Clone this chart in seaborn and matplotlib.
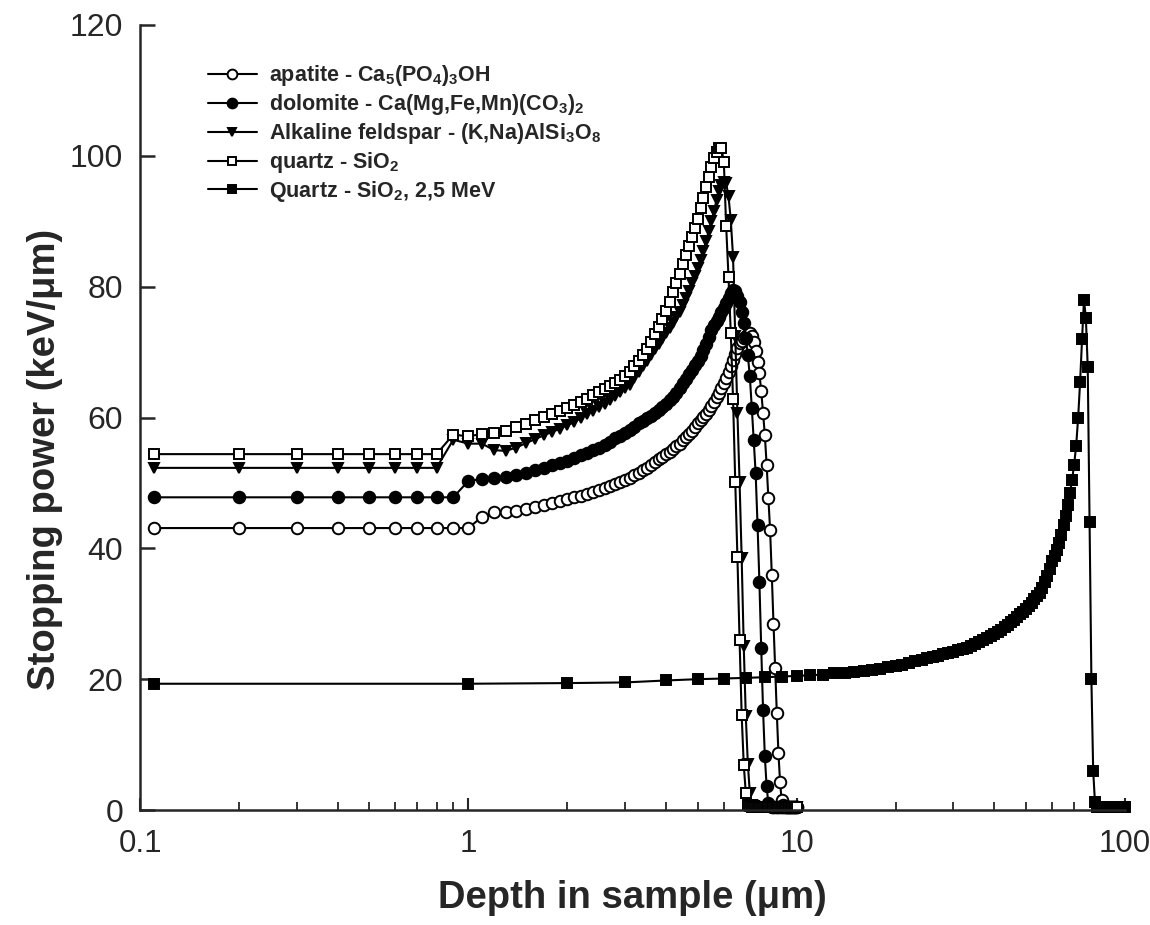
import numpy as np
import pandas as pd
import matplotlib
matplotlib.use("Agg")
import matplotlib.pyplot as plt
import seaborn as sns
from matplotlib.ticker import LogLocator, NullFormatter, FixedLocator

sns.set_style("ticks")
plt.rcParams['font.family'] = ['Liberation Sans', 'DejaVu Sans']
plt.rcParams['mathtext.fontset'] = 'custom'
plt.rcParams['mathtext.rm'] = 'Liberation Sans:bold'
plt.rcParams['mathtext.it'] = 'Liberation Sans:bold'
plt.rcParams['mathtext.bf'] = 'Liberation Sans:bold'
plt.rcParams['mathtext.default'] = 'rm'

# ---------------- data ----------------
# depth grid of the 1 MeV mineral curves (µm)
depth_min = [0.11, 0.2, 0.3, 0.4, 0.5, 0.6, 0.7, 0.8, 0.9] + [round(0.1 * k, 1) for k in range(10, 101)]

apatite = [43.1, 43.1, 43.1, 43.1, 43.1, 43.1, 43.1, 43.1, 43.1,            # 0.11-0.9
           43.1, 44.8, 45.5, 45.6, 45.7, 46.0, 46.3, 46.6, 46.9, 47.2,      # 1.0-1.9
           47.5, 47.8, 48.0, 48.3, 48.6, 48.9, 49.2, 49.5, 49.8, 50.1,      # 2.0-2.9
           50.4, 50.8, 51.2, 51.5, 51.9, 52.3, 52.8, 53.2, 53.6, 54.0,      # 3.0-3.9
           54.4, 54.8, 55.2, 55.6, 56.0, 56.5, 57.0, 57.5, 58.0, 58.6,      # 4.0-4.9
           59.1, 59.6, 60.1, 60.6, 61.1, 61.7, 62.4, 63.1, 63.8, 64.5,      # 5.0-5.9
           65.2, 66.1, 67.0, 67.9, 68.8, 69.7, 70.6, 71.4, 71.7, 72.1,      # 6.0-6.9
           72.4, 72.8, 72.9, 72.5, 71.5, 70.1, 68.5, 66.8, 64.0, 60.7,      # 7.0-7.9
           57.3, 52.8, 47.7, 42.8, 35.9, 28.5, 21.7, 14.8, 8.7, 4.3,        # 8.0-8.9
           1.5, 0.8, 0.6, 0.5, 0.5, 0.4, 0.4, 0.4, 0.4, 0.4,                # 9.0-9.9
           0.4]                                                             # 10.0

dolomite = [47.8, 47.8, 47.8, 47.8, 47.8, 47.8, 47.8, 47.8, 47.8,
            50.3, 50.6, 50.8, 50.9, 51.2, 51.5, 51.9, 52.3, 52.7, 53.1,
            53.4, 53.8, 54.2, 54.6, 55.0, 55.4, 55.8, 56.3, 56.8, 57.2,
            57.6, 58.1, 58.6, 59.1, 59.5, 59.9, 60.3, 60.7, 61.2, 61.6,
            62.0, 62.6, 63.2, 63.8, 64.5, 65.2, 65.9, 66.6, 67.3, 68.0,
            68.7, 69.4, 70.3, 71.3, 72.3, 73.3, 74.1, 74.8, 75.4, 76.1,
            76.8, 77.5, 78.2, 79.0, 79.5, 79.3, 78.6, 77.6, 76.2, 74.4,
            72.2, 69.5, 66.3, 61.5, 56.5, 51.5, 43.6, 34.9, 24.7, 15.3,
            8.2, 3.6, 1.0, 0.6, 0.5, 0.5, 0.4, 0.4, 0.4, 0.4,
            0.4, 0.4, 0.4, 0.4, 0.4, 0.4, 0.4, 0.4, 0.4, 0.4,
            0.4]

feldspar = [52.3, 52.3, 52.3, 52.3, 52.3, 52.3, 52.3, 52.3, 56.6,
            56.0, 56.0, 55.0, 54.9, 55.4, 56.1, 56.7, 57.3, 57.8, 58.3,
            58.8, 59.3, 59.9, 60.5, 61.0, 61.6, 62.1, 62.7, 63.3, 63.9,
            64.5, 65.0, 66.0, 66.9, 67.8, 68.7, 69.6, 70.4, 71.2, 72.0,
            72.9, 73.7, 74.5, 75.4, 76.2, 77.2, 78.3, 79.4, 80.5, 81.6,
            82.8, 84.1, 85.5, 87.0, 88.5, 90.0, 91.6, 93.2, 94.6, 95.6,
            96.0, 95.8, 93.8, 90.2, 84.6, 72.5, 60.7, 50.2, 38.5, 25.0,
            14.3, 7.1, 2.6, 0.8, 0.6, 0.5, 0.5, 0.4, 0.4, 0.4,
            0.4, 0.4, 0.4, 0.4, 0.4, 0.4, 0.4, 0.4, 0.4, 0.4,
            0.4, 0.4, 0.4, 0.4, 0.4, 0.4, 0.4, 0.4, 0.4, 0.4,
            0.4]

quartz = [54.4, 54.4, 54.4, 54.4, 54.4, 54.4, 54.4, 54.4, 57.4,
          57.1, 57.5, 57.7, 58.0, 58.5, 59.0, 59.6, 60.1, 60.5, 61.0,
          61.5, 61.9, 62.4, 62.9, 63.4, 63.9, 64.3, 64.8, 65.3, 65.8,
          66.4, 67.0, 67.8, 68.6, 69.5, 70.5, 71.6, 72.7, 73.8, 75.0,
          76.3, 77.7, 79.2, 80.6, 82.0, 83.4, 84.8, 86.2, 87.6, 89.0,
          90.4, 92.0, 93.6, 95.2, 96.8, 98.3, 99.6, 100.6, 101.2, 101.2,
          99.1, 89.2, 81.5, 72.9, 62.9, 50.2, 38.7, 26.0, 14.5, 6.9,
          2.6, 0.8, 0.6, 0.5, 0.5, 0.4, 0.4, 0.4, 0.4, 0.4,
          0.4, 0.4, 0.4, 0.4, 0.4, 0.4, 0.4, 0.4, 0.4, 0.4,
          0.4, 0.4, 0.4, 0.4, 0.4, 0.4, 0.4, 0.4, 0.4, 0.4,
          0.4]

# 2.5 MeV quartz curve, depth grid 0.11 then every 1 µm
depth_mev = [0.11] + list(range(1, 101))
quartz_25 = [19.3,
             19.3, 19.4, 19.5, 19.8, 20.0, 20.1, 20.2, 20.3, 20.4, 20.5,   # 1-10
             20.6, 20.7, 20.9, 21.0, 21.1, 21.3, 21.4, 21.6, 21.8, 22.0,   # 11-20
             22.2, 22.5, 22.8, 23.0, 23.2, 23.4, 23.6, 23.8, 24.0, 24.2,   # 21-30
             24.4, 24.6, 24.8, 25.1, 25.4, 25.7, 26.0, 26.3, 26.6, 26.9,   # 31-40
             27.2, 27.5, 27.9, 28.3, 28.7, 29.1, 29.5, 29.9, 30.3, 30.7,   # 41-50
             31.2, 31.7, 32.2, 32.7, 33.2, 34.0, 34.9, 35.8, 36.9, 38.0,   # 51-60
             38.9, 39.8, 40.8, 42.1, 43.5, 45.0, 46.7, 48.5, 50.5, 52.8,   # 61-70
             55.7, 60.0, 65.5, 72.0, 78.0, 75.2, 67.7, 44.0, 20.0, 6.0,    # 71-80
             1.2, 0.4, 0.4, 0.4, 0.4, 0.4, 0.4, 0.4, 0.4, 0.4,             # 81-90
             0.4, 0.4, 0.4, 0.4, 0.4, 0.4, 0.4, 0.4, 0.4, 0.4]             # 91-100

labels = [r'apatite - Ca$_5$(PO$_4$)$_3$OH',
          r'dolomite - Ca(Mg,Fe,Mn)(CO$_3$)$_2$',
          r'Alkaline feldspar - (K,Na)AlSi$_3$O$_8$',
          r'quartz - SiO$_2$',
          r'Quartz - SiO$_2$, 2,5 MeV']

x_ticks = [0.1, 1, 10, 100]
x_ticklabels = ['0.1', '1', '10', '100']
y_ticks = [0, 20, 40, 60, 80, 100, 120]

# ---------------- figure ----------------
fig = plt.figure(figsize=(11.5, 9.25), dpi=100)
ax = fig.add_axes([140 / 1150, 1 - 810 / 925, 985 / 1150, 785 / 925])

styles = [
    (depth_min, apatite, dict(marker='o', markerfacecolor='white', markersize=8.3)),
    (depth_min, dolomite, dict(marker='o', markerfacecolor='black', markersize=8.3)),
    (depth_min, feldspar, dict(marker='v', markerfacecolor='black', markersize=7.5)),
    (depth_min, quartz, dict(marker='s', markerfacecolor='white', markersize=7)),
    (depth_mev, quartz_25, dict(marker='s', markerfacecolor='black', markersize=7.5)),
]

for (xs, ys, st), lab in zip(styles, labels):
    df = pd.DataFrame({'depth': xs, 'sp': ys})
    sns.lineplot(data=df, x='depth', y='sp', ax=ax, estimator=None, sort=False,
                 color='black', linewidth=1.5, markeredgecolor='black',
                 markeredgewidth=1.4, label=lab, clip_on=False, **st)

ax.set_xscale('log')
ax.set_xlim(0.1, 100)
ax.set_ylim(0, 120)
ax.xaxis.set_major_locator(FixedLocator(x_ticks))
ax.set_xticklabels(x_ticklabels)
ax.xaxis.set_minor_locator(LogLocator(base=10, subs=np.arange(2, 10)))
ax.xaxis.set_minor_formatter(NullFormatter())
ax.set_yticks(y_ticks)

for s in ['top', 'right']:
    ax.spines[s].set_visible(False)
for s in ['left', 'bottom']:
    ax.spines[s].set_linewidth(1.8)

ax.tick_params(axis='x', which='major', direction='in', length=9, width=1.5,
               labelsize=22.5, pad=14)
ax.tick_params(axis='x', which='minor', direction='in', length=5.5, width=1.3)
ax.tick_params(axis='y', which='major', direction='in', length=11, width=1.8,
               labelsize=23, pad=12)

ax.set_xlabel('Depth in sample (μm)', fontsize=27.5, fontweight='bold', labelpad=15)
ax.set_ylabel('Stopping power (keV/μm)', fontsize=27.5, fontweight='bold')
ax.yaxis.set_label_coords(-0.078, 0.446)

leg = ax.legend(loc='upper left', bbox_to_anchor=(0.060, 0.962), frameon=False,
                fontsize=15.5, handlelength=2.3, handletextpad=0.55,
                labelspacing=0.18, borderaxespad=0.0, markerscale=0.85)
for t in leg.get_texts():
    t.set_fontweight('bold')

fig.savefig('out.png', dpi=100)
